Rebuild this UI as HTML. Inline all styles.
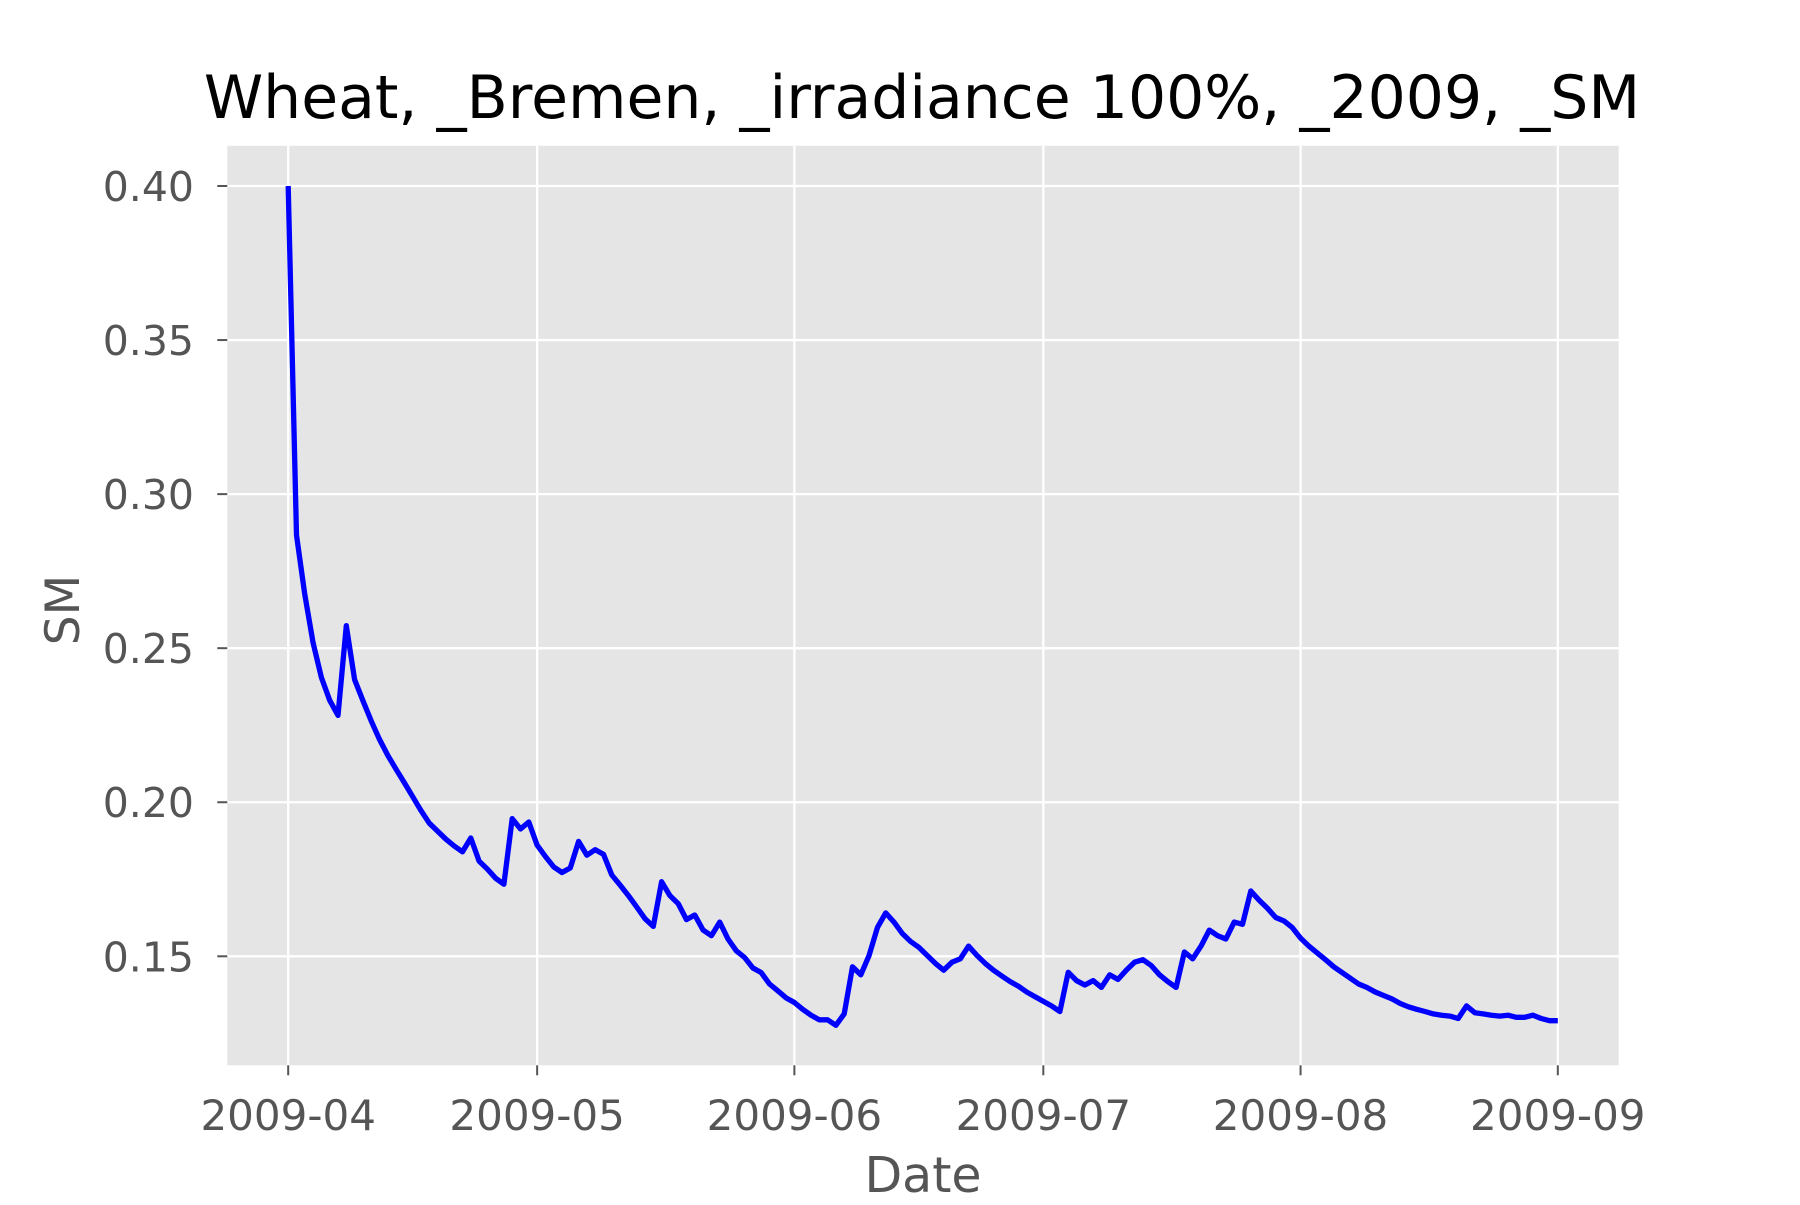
<!DOCTYPE html>
<html><head><meta charset="utf-8"><style>
html,body{margin:0;padding:0;background:#fff;}
svg text{font-family:"DejaVu Sans","Liberation Sans",sans-serif;}
</style></head><body>
<svg id="chart" width="1800" height="1200" viewBox="0 0 1800 1200" xmlns="http://www.w3.org/2000/svg">
<rect width="1800" height="1200" fill="#fff"/>
<text x="922" y="118" font-size="60" text-anchor="middle" fill="#000">Wheat, _Bremen, _irradiance 100%, _2009, _SM</text>
<rect x="227.3" y="145.8" width="1391.4" height="919.5" fill="#e5e5e5"/>
<g id="grid"></g>
<g id="axes"></g>
<path id="line" fill="none" stroke="#0000ff" stroke-width="5.3" stroke-linejoin="round"/>
<text x="923" y="1192" font-size="49" text-anchor="middle" fill="#555">Date</text>
<text transform="translate(79,610) rotate(-90)" font-size="47" text-anchor="middle" fill="#555">SM</text>
</svg>
<script>
const dayOffsets = [0,1,2,3,4,5,6,7,8,9,10,11,12,13,14,15,16,17,18,19,20,21,22,23,24,25,26,27,28,29,30,31,32,33,34,35,36,37,38,39,40,41,42,43,44,45,46,47,48,49,50,51,52,53,54,55,56,57,58,59,60,61,62,63,64,65,66,67,68,69,70,71,72,73,74,75,76,77,78,79,80,81,82,83,84,85,86,87,88,89,90,91,92,93,94,95,96,97,98,99,100,101,102,103,104,105,106,107,108,109,110,111,112,113,114,115,116,117,118,119,120,121,122,123,124,125,126,127,128,129,130,131,132,133,134,135,136,137,138,139,140,141,142,143,144,145,146,147,148,149,150,151,152,153];
const smValues = [0.400,0.2867,0.2674,0.2517,0.2405,0.2331,0.2282,0.2573,0.2398,0.2330,0.2264,0.2204,0.2152,0.2107,0.2063,0.2018,0.1973,0.1932,0.1906,0.1880,0.1858,0.1839,0.1884,0.1809,0.1783,0.1753,0.1734,0.1947,0.1913,0.1936,0.1861,0.1824,0.1790,0.1772,0.1787,0.1873,0.1828,0.1846,0.1831,0.1764,0.1731,0.1697,0.1660,0.1622,0.1597,0.1742,0.1697,0.1671,0.1619,0.1634,0.1585,0.1567,0.1611,0.1556,0.1518,0.1496,0.1462,0.1447,0.1410,0.1388,0.1365,0.1350,0.1328,0.1309,0.1294,0.1294,0.1276,0.1313,0.1466,0.1440,0.1503,0.1593,0.1641,0.1611,0.1574,0.1548,0.1529,0.1503,0.1477,0.1455,0.1481,0.1492,0.1533,0.1503,0.1477,0.1455,0.1436,0.1418,0.1403,0.1384,0.1369,0.1354,0.1339,0.1321,0.1448,0.1421,0.1407,0.1421,0.1399,0.1440,0.1425,0.1455,0.1481,0.1489,0.1470,0.1440,0.1418,0.1399,0.1514,0.1492,0.1533,0.1585,0.1567,0.1556,0.1611,0.1604,0.1712,0.1682,0.1656,0.1626,0.1615,0.1593,0.1559,0.1533,0.1511,0.1489,0.1466,0.1447,0.1429,0.1410,0.1399,0.1384,0.1373,0.1362,0.1347,0.1336,0.1328,0.1321,0.1313,0.1309,0.1306,0.1298,0.1339,0.1317,0.1313,0.1309,0.1306,0.1309,0.1302,0.1302,0.1309,0.1298,0.1291,0.1291];
const xTickDays = [0,30,61,91,122,153];
const xTickLabels = ["2009-04","2009-05","2009-06","2009-07","2009-08","2009-09"];
const yTickValues = [0.15,0.20,0.25,0.30,0.35,0.40];
const yTickLabels = ["0.15","0.20","0.25","0.30","0.35","0.40"];

const NS = "http://www.w3.org/2000/svg";
const X0 = 288.2, X1 = 1557.8, D0 = 0, D1 = 153;
const Y0 = 956.3, Y1 = 186, V0 = 0.15, V1 = 0.40;
const PL = 227.3, PR = 1618.7, PT = 145.8, PB = 1065.3;
function xs(d){ return X0 + (d - D0) / (D1 - D0) * (X1 - X0); }
function ys(v){ return Y0 + (v - V0) / (V1 - V0) * (Y1 - Y0); }
function mk(tag, attrs, parent){ const e = document.createElementNS(NS, tag); for (const k in attrs) e.setAttribute(k, attrs[k]); parent.appendChild(e); return e; }
const grid = document.getElementById('grid'), axes = document.getElementById('axes');
xTickDays.forEach((d, i) => {
  const x = xs(d);
  const g = mk('line', {x1:x, x2:x, y1:PT, y2:PB, stroke:'#fff', 'stroke-width':2.3}, grid);
  
  
  const t = mk('line', {x1:x, x2:x, y1:PB, y2:PB+10, stroke:'#555', 'stroke-width':2}, axes);
  
  
  const l = mk('text', {x:x, y:1130, 'font-size':42, 'text-anchor':'middle', fill:'#555'}, axes);
  l.textContent = xTickLabels[i];
  
  
});
yTickValues.forEach((v, i) => {
  const y = ys(v);
  const g = mk('line', {x1:PL, x2:PR, y1:y, y2:y, stroke:'#fff', 'stroke-width':2.3}, grid);
  
  
  const t = mk('line', {x1:PL-10, x2:PL, y1:y, y2:y, stroke:'#555', 'stroke-width':2}, axes);
  
  
  const l = mk('text', {x:194, y:y+15, 'font-size':41, 'text-anchor':'end', fill:'#555'}, axes);
  l.textContent = yTickLabels[i];
  
  
});
document.getElementById('line').setAttribute('d', dayOffsets.map((d, i) => (i ? 'L' : 'M') + xs(d).toFixed(1) + ',' + ys(smValues[i]).toFixed(1)).join(''));
</script>
</body></html>
